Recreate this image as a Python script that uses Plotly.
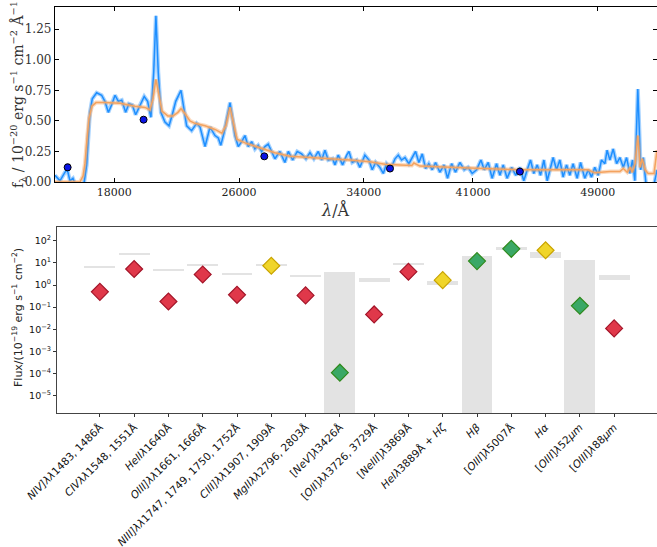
import plotly.graph_objects as go

# ---------------- top panel data ----------------
spec_wave = [14200, 14520, 14840, 14990, 15160, 15350, 15500, 16050, 16230, 16330, 16440, 16590, 16870,
             17190, 17400, 17620, 17830, 18050, 18260, 18480, 18730, 18940, 19160, 19370, 19650, 19920,
             20140, 20350, 20530, 20670, 20820, 20990, 21250, 21510, 21720, 21940, 22280, 22420, 22640,
             22960, 23280, 23500, 23820, 24140, 24460, 24670, 24830, 25030, 25240, 25420, 25570, 25740,
             25950, 26170, 26380, 26590, 26810, 27020, 27230, 27450, 27660, 27870, 28090, 28300, 28620,
             28940, 29160, 29440, 29730, 30010, 30290, 30550, 30800, 31080, 31300, 31510, 31720, 32000,
             32150, 32360, 32640, 32900, 33050, 33260, 33540, 33750, 34070, 34330, 34540, 34760, 35030,
             35250, 35460, 35740, 36000, 36210, 36420, 36640, 36890, 37110, 37320, 37530, 37750, 37960,
             38170, 38390, 38600, 38880, 39150, 39370, 39630, 39880, 40160, 40440, 40690, 40950, 41230,
             41510, 41720, 41980, 42230, 42510, 42730, 42940, 43190, 43480, 43750, 44010, 44260, 44480,
             44690, 44900, 45120, 45330, 45550, 45760, 45930, 46140, 46360, 46570, 46780, 47000, 47210,
             47420, 47680, 47900, 48170, 48390, 48600, 48810, 49030, 49240, 49460, 49600, 49780, 49990,
             50210, 50420, 50640, 50850, 51060, 51230, 51380, 51490, 51570, 51660, 51750, 51920, 52100,
             52350, 52610, 52800]
spec_flux = [0.055, 0.01, 0.08, 0.10, 0.01, 0.03, -0.02, -0.02, 0.14, 0.36, 0.57, 0.68, 0.73,
             0.71, 0.66, 0.57, 0.63, 0.71, 0.66, 0.67, 0.57, 0.64, 0.63, 0.55, 0.63, 0.70,
             0.66, 0.53, 0.90, 1.36, 0.90, 0.57, 0.49, 0.46, 0.55, 0.66, 0.75, 0.63, 0.46,
             0.42, 0.48, 0.45, 0.29, 0.45, 0.38, 0.36, 0.30, 0.40, 0.53, 0.65, 0.53, 0.38,
             0.29, 0.33, 0.38, 0.29, 0.33, 0.27, 0.30, 0.25, 0.29, 0.31, 0.25, 0.19, 0.25,
             0.16, 0.25, 0.18, 0.25, 0.23, 0.19, 0.24, 0.19, 0.25, 0.18, 0.26, 0.18, 0.19,
             0.14, 0.22, 0.14, 0.22, 0.25, 0.16, 0.18, 0.12, 0.22, 0.18, 0.10, 0.16, 0.12,
             0.07, 0.15, 0.11, 0.19, 0.22, 0.18, 0.20, 0.15, 0.20, 0.25, 0.16, 0.23, 0.11,
             0.15, 0.10, 0.16, 0.08, 0.14, 0.03, 0.15, 0.08, 0.16, 0.10, 0.12, 0.07, 0.10,
             0.18, 0.10, 0.16, 0.03, 0.15, 0.055, 0.14, 0.03, 0.12, 0.055, 0.12, 0.01, 0.10,
             0.18, 0.07, 0.14, 0.055, 0.18, 0.01, 0.10, 0.20, 0.10, 0.18, 0.04, 0.14, 0.055,
             0.15, 0.03, 0.16, 0.03, 0.10, 0.04, 0.12, 0.055, 0.18, 0.15, 0.26, 0.18, 0.27,
             0.15, 0.20, 0.12, 0.20, 0.07, 0.18, 0.01, 0.45, 0.76, 0.45, 0.10, 0.20, -0.02,
             -0.02, -0.02, 0.10]

model_wave = [14200, 15800, 16000, 16120, 16250, 16380, 16570, 16830, 17400, 18370, 19330, 19970, 20290,
              20480, 20670, 20860, 21060, 21440, 21760, 22080, 22280, 22530, 22850, 23170, 23820, 24460,
              24900, 25160, 25420, 25610, 25870, 26380, 27340, 28300, 29260, 30550, 31190, 31830, 33110,
              34390, 35350, 36320, 37080, 37210, 37400, 37600, 39520, 41440, 44010, 46570, 48370, 48820,
              49140, 49780, 50420, 50640, 50890, 51080, 51210, 51400, 51570, 51720, 51850, 52040, 52230,
              52610, 52800]
model_flux = [0.0, 0.0, 0.05, 0.15, 0.35, 0.52, 0.62, 0.65, 0.65, 0.645, 0.62, 0.61, 0.59,
              0.68, 0.84, 0.70, 0.58, 0.54, 0.54, 0.57, 0.60, 0.56, 0.50, 0.48, 0.46, 0.43,
              0.40, 0.46, 0.61, 0.50, 0.35, 0.32, 0.28, 0.24, 0.21, 0.20, 0.20, 0.19, 0.18,
              0.165, 0.145, 0.14, 0.135, 0.155, 0.14, 0.13, 0.12, 0.11, 0.10, 0.10, 0.10, 0.075,
              0.08, 0.085, 0.085, 0.11, 0.08, 0.12, 0.08, 0.15, 0.38, 0.12, 0.19, 0.10, 0.07,
              0.07, 0.26]

phot_wave = [15010, 19880, 27620, 35680, 44010]
phot_flux = [0.12, 0.51, 0.21, 0.11, 0.085]
phot_err = [0.025, 0.012, 0.01, 0.01, 0.01]

top_xticks = [18000, 26000, 34000, 41000, 49000]
top_yticks = [0.0, 0.25, 0.5, 0.75, 1.0, 1.25]

# ---------------- bottom panel data ----------------
line_labels = [
    "<i>NIV]λλ</i>1483, 1486Å",
    "<i>CIVλλ</i>1548, 1551Å",
    "<i>HeIIλ</i>1640Å",
    "<i>OIII]λλ</i>1661, 1666Å",
    "<i>NIII]λλ</i>1747, 1749, 1750, 1752Å",
    "<i>CIII]λλ</i>1907, 1909Å",
    "<i>MgIIλλ</i>2796, 2803Å",
    "[<i>NeV</i>]<i>λ</i>3426Å",
    "[<i>OII</i>]<i>λλ</i>3726, 3729Å",
    "[<i>NeIII</i>]<i>λ</i>3869Å",
    "<i>HeIλ</i>3889Å + <i>Hζ</i>",
    "<i>Hβ</i>",
    "[<i>OIII</i>]<i>λ</i>5007Å",
    "<i>Hα</i>",
    "[<i>OIII</i>]<i>λ</i>52<i>μm</i>",
    "[<i>OIII</i>]<i>λ</i>88<i>μm</i>",
]
line_flux = [0.49, 5.3, 0.18, 3.0, 0.36, 7.4, 0.34, 1.1e-4, 0.047, 4.0, 1.66, 12, 43, 37, 0.115, 0.011]
limit_lo = [6.1, 24, 4.3, 7.4, 2.95, 7.4, 2.3, 1e-7, 1.4, 8.4, 1.0, 1e-7, 39, 17, 1e-7, 1.66]
limit_hi = [7.2, 28.5, 5.1, 8.8, 3.5, 8.8, 2.75, 3.8, 2.05, 9.9, 1.52, 20, 52, 31, 13.5, 2.8]
line_group = ["a", "a", "a", "a", "a", "b", "a", "c", "a", "a", "b", "c", "c", "b", "c", "a"]

bottom_ytick_exp = [-5, -4, -3, -2, -1, 0, 1, 2]

# ---------------- styles ----------------
group_fill = {"a": "#e0384a", "b": "#f0d52a", "c": "#3aa866"}
group_edge = {"a": "#a31428", "b": "#c9a400", "c": "#2e8a1c"}
BLUE = "#1e8fff"
ORANGE = "#f4a35f"
SERIF = "DejaVu Serif"
SANS = "DejaVu Sans"

W, H = 657, 547

fig = go.Figure()

fig.add_trace(go.Scatter(x=spec_wave, y=spec_flux, mode="lines",
                         line=dict(color="rgba(30,143,255,0.40)", width=4), hoverinfo="skip",
                         xaxis="x", yaxis="y", showlegend=False))
fig.add_trace(go.Scatter(x=spec_wave, y=spec_flux, mode="lines",
                         line=dict(color=BLUE, width=1.5),
                         xaxis="x", yaxis="y", showlegend=False))
fig.add_trace(go.Scatter(x=model_wave, y=model_flux, mode="lines",
                         line=dict(color="rgba(244,163,95,0.40)", width=4), hoverinfo="skip",
                         xaxis="x", yaxis="y", showlegend=False))
fig.add_trace(go.Scatter(x=model_wave, y=model_flux, mode="lines",
                         line=dict(color=ORANGE, width=1.5),
                         xaxis="x", yaxis="y", showlegend=False))
fig.add_trace(go.Scatter(x=phot_wave, y=phot_flux, mode="markers",
                         error_y=dict(type="data", array=phot_err, color="black", thickness=1.2, width=2),
                         marker=dict(color="#0a14e6", size=7, line=dict(color="black", width=1)),
                         xaxis="x", yaxis="y", showlegend=False))

x_idx = list(range(len(line_labels)))
fig.add_trace(go.Bar(x=x_idx, y=[h - l for h, l in zip(limit_hi, limit_lo)], base=limit_lo,
                     width=0.9, marker=dict(color="#e3e3e3", line=dict(width=0)),
                     xaxis="x2", yaxis="y2", showlegend=False))
fig.add_trace(go.Scatter(x=x_idx, y=line_flux, mode="markers",
                         marker=dict(symbol="diamond", size=13,
                                     color=[group_fill[g] for g in line_group],
                                     line=dict(color=[group_edge[g] for g in line_group], width=1.2)),
                         xaxis="x2", yaxis="y2", showlegend=False))

top_dom_y = [1 - 182 / H, 1 - 7 / H]
bot_dom_y = [1 - 413 / H, 1 - 227 / H]

fig.update_layout(
    width=W, height=H,
    margin=dict(l=0, r=0, t=0, b=0, autoexpand=False),
    paper_bgcolor="white", plot_bgcolor="white",
    bargap=0,
    xaxis=dict(domain=[55 / W, 1.0], range=[14200, 52800], tickvals=top_xticks,
               ticktext=[str(v) for v in top_xticks], automargin=False,
               ticks="inside", ticklen=4, tickcolor="black", showline=True, linecolor="black",
               linewidth=1.3, mirror="ticks", showgrid=False, zeroline=False,
               tickfont=dict(family=SERIF, size=11, color="#222"), anchor="y"),
    yaxis=dict(domain=top_dom_y, range=[0, 1.432], tickvals=top_yticks,
               ticktext=["%.2f" % v for v in top_yticks], automargin=False,
               ticks="inside", ticklen=4, tickcolor="black", showline=True, linecolor="black",
               linewidth=1.3, mirror="ticks", showgrid=False, zeroline=False,
               tickfont=dict(family=SERIF, size=12, color="#333"), anchor="x"),
    xaxis2=dict(domain=[57 / W, 1.0], range=[-1.25, 16.25], tickvals=x_idx, ticktext=line_labels,
                tickangle=-45, ticks="outside", ticklen=3, tickcolor="#333", showline=True,
                linecolor="#444", linewidth=1.2, mirror=True, showgrid=False, zeroline=False,
                automargin=False,
                tickfont=dict(family=SANS, size=10.5, color="#111"), anchor="y2"),
    yaxis2=dict(domain=bot_dom_y, type="log", range=[-5.78, 2.62],
                tickvals=[10.0 ** e for e in bottom_ytick_exp],
                ticktext=["10<sup>%s</sup>" % (str(e).replace("-", "−")) for e in bottom_ytick_exp],
                ticks="outside", ticklen=3, tickcolor="#333", showline=True, linecolor="#444",
                linewidth=1.2, mirror=True, showgrid=False, zeroline=False, automargin=False,
                tickfont=dict(family=SANS, size=9.5, color="#111"), anchor="x2"),
    annotations=[
        dict(text="f<sub>λ</sub> / 10<sup>−20</sup> erg s<sup>−1</sup> cm<sup>−2</sup> Å<sup>−1</sup>",
             x=18 / W, y=1 - 95 / H, xref="paper", yref="paper", textangle=-90, showarrow=False,
             font=dict(family=SERIF, size=14, color="#333"), xanchor="center", yanchor="middle"),
        dict(text="<i>λ</i>/Å", x=335 / W, y=1 - 210 / H, xref="paper", yref="paper", showarrow=False,
             font=dict(family=SERIF, size=16, color="#333"), xanchor="center", yanchor="middle"),
        dict(text="Flux/(10<sup>−19</sup> erg s<sup>−1</sup> cm<sup>−2</sup>)",
             x=17 / W, y=1 - 318 / H, xref="paper", yref="paper", textangle=-90, showarrow=False,
             font=dict(family=SANS, size=11, color="#222"), xanchor="center", yanchor="middle"),
    ],
)

fig.write_html("out.html")
